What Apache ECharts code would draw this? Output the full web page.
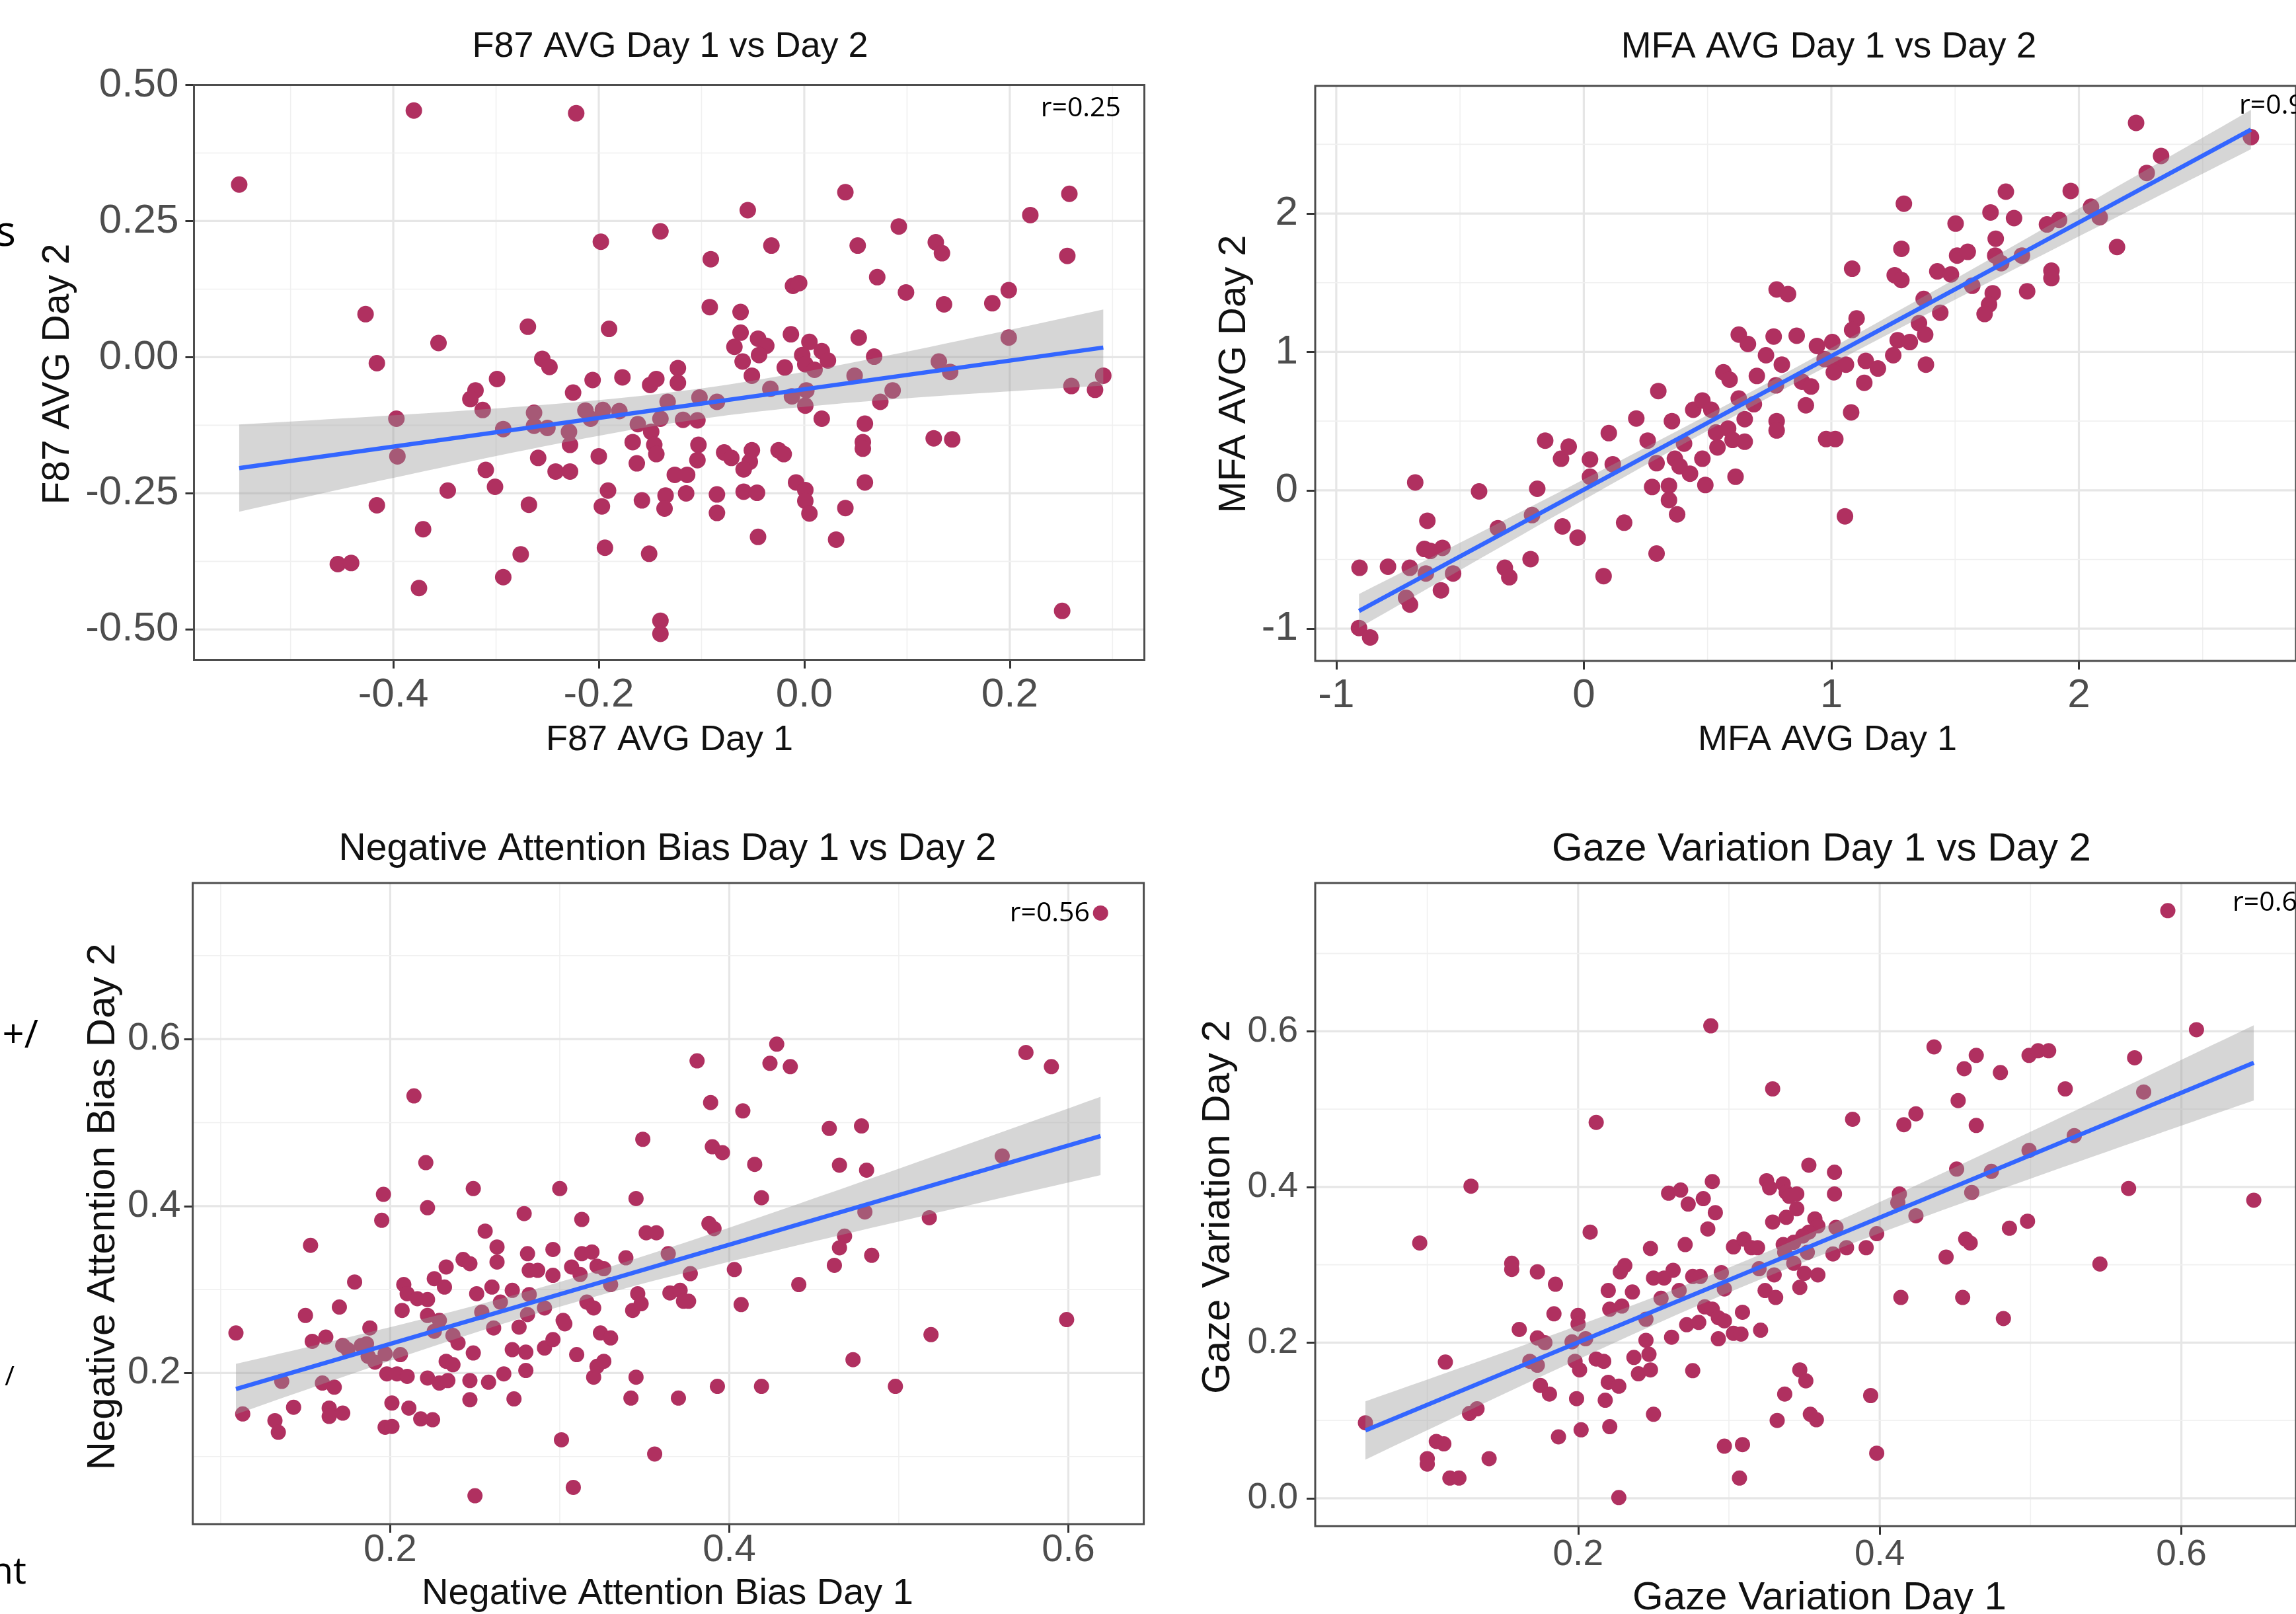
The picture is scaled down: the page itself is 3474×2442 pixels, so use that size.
<!DOCTYPE html>
<html><head><meta charset="utf-8">
<script src="https://cdn.jsdelivr.net/npm/echarts@6.0.0/dist/echarts.min.js"></script>
<style>html,body{margin:0;padding:0;background:#fff;overflow:hidden}#chart{width:3474px;height:2442px}</style>
</head><body><div id="chart"></div>
<script>
// ---------- DATA ----------
const f87Points = [[-0.550,0.317],[-0.380,0.453],[-0.222,0.448],[-0.198,0.212],[-0.140,0.231],[-0.427,0.079],[-0.416,-0.011],[-0.356,0.026],[-0.269,0.056],[-0.190,0.052],[-0.255,-0.003],[-0.248,-0.018],[-0.299,-0.040],[-0.320,-0.061],[-0.325,-0.077],[-0.313,-0.097],[-0.225,-0.065],[-0.206,-0.042],[-0.177,-0.037],[-0.150,-0.051],[-0.144,-0.040],[-0.397,-0.113],[-0.396,-0.182],[-0.293,-0.132],[-0.263,-0.102],[-0.263,-0.126],[-0.250,-0.130],[-0.229,-0.137],[-0.213,-0.098],[-0.208,-0.113],[-0.196,-0.097],[-0.180,-0.099],[-0.162,-0.123],[-0.149,-0.137],[-0.140,-0.113],[-0.228,-0.161],[-0.167,-0.156],[-0.146,-0.161],[-0.144,-0.178],[-0.259,-0.185],[-0.200,-0.182],[-0.163,-0.195],[-0.310,-0.207],[-0.301,-0.238],[-0.242,-0.210],[-0.228,-0.210],[-0.347,-0.245],[-0.416,-0.272],[-0.268,-0.271],[-0.191,-0.245],[-0.197,-0.274],[-0.158,-0.263],[-0.135,-0.254],[-0.371,-0.316],[-0.454,-0.380],[-0.441,-0.378],[-0.276,-0.362],[-0.194,-0.350],[-0.151,-0.361],[-0.375,-0.424],[-0.293,-0.404],[-0.140,-0.484],[-0.140,-0.508],
[-0.133,-0.082],[-0.123,-0.020],[-0.123,-0.047],[-0.118,-0.115],[-0.104,-0.116],[-0.103,-0.161],[-0.104,-0.189],[-0.126,-0.216],[-0.114,-0.216],[-0.136,-0.278],[-0.115,-0.250],[-0.085,-0.252],[-0.085,-0.286],[-0.091,0.180],[-0.092,0.092],[-0.055,0.270],[-0.032,0.205],[-0.062,0.083],[-0.011,0.131],[-0.005,0.136],[0.040,0.303],[0.052,0.205],[0.092,0.240],[0.071,0.147],[0.099,0.119],[0.128,0.211],[0.134,0.191],[0.136,0.097],[0.220,0.261],[0.258,0.300],[0.256,0.186],[0.183,0.099],[0.199,0.123],[0.199,0.036],[-0.062,0.045],[-0.068,0.019],[-0.060,-0.008],[-0.045,0.034],[-0.037,0.021],[-0.044,0.004],[-0.051,-0.034],[-0.013,0.042],[-0.019,-0.019],[0.005,0.028],[-0.002,0.004],[0.001,-0.013],[0.017,0.011],[0.023,-0.006],[0.010,-0.023],[0.053,0.036],[0.068,0.001],[0.049,-0.034],[-0.033,-0.058],[-0.012,-0.072],[0.002,-0.061],[0.001,-0.089],[-0.085,-0.082],[-0.102,-0.074],[0.086,-0.061],[0.074,-0.082],[0.017,-0.113],[0.131,-0.008],[0.142,-0.027],[0.059,-0.122],[0.057,-0.156],[0.057,-0.168],[0.126,-0.149],[0.144,-0.151],[0.260,-0.053],[0.283,-0.060],[0.291,-0.034],[-0.078,-0.175],[-0.071,-0.185],[-0.051,-0.171],[-0.053,-0.192],[-0.059,-0.206],[-0.025,-0.171],[-0.020,-0.178],[-0.059,-0.247],[-0.046,-0.249],[-0.008,-0.230],[0.001,-0.244],[0.001,-0.264],[0.005,-0.287],[0.040,-0.277],[0.059,-0.230],[-0.045,-0.330],[0.031,-0.335],[0.251,-0.466]];

const mfaPoints = [[-0.908,-0.995],[-0.863,-1.063],[-0.906,-0.560],[-0.791,-0.552],[-0.703,-0.560],[-0.718,-0.777],[-0.702,-0.826],[-0.681,0.057],[-0.632,-0.220],[-0.644,-0.424],[-0.620,-0.438],[-0.571,-0.416],[-0.638,-0.601],[-0.528,-0.601],[-0.577,-0.723],[-0.423,-0.008],[-0.347,-0.274],[-0.319,-0.560],[-0.301,-0.628],[-0.215,-0.497],[-0.209,-0.179],[-0.188,0.011],[-0.156,0.359],[-0.092,0.228],[-0.061,0.315],[-0.086,-0.261],[-0.025,-0.342],[0.025,0.223],[0.025,0.098],[0.080,-0.620],[0.101,0.413],[0.117,0.188],[0.163,-0.234],[0.212,0.519],[0.258,0.359],[0.301,0.717],[0.294,0.196],[0.276,0.024],[0.294,-0.457],[0.344,0.033],[0.344,-0.071],[0.377,-0.174],[0.356,0.500],[0.368,0.228],[0.387,0.174],[0.405,0.337],[0.442,0.582],[0.429,0.120],[0.491,0.038],[0.479,0.228],[0.479,0.649],[0.515,0.582],[0.534,0.418],[0.540,0.310],[0.564,0.853],[0.589,0.799],[0.583,0.446],[0.601,0.364],[0.613,0.098],[0.626,1.125],[0.663,1.057],[0.626,0.663],[0.650,0.514],[0.650,0.351],[0.687,0.622],[0.699,0.826],[0.736,0.976],[0.767,1.111],[0.779,1.451],[0.779,0.500],[0.779,0.432],[0.800,0.908],
[0.825,1.418],[0.860,1.117],[0.776,0.758],[0.881,0.785],[0.918,0.750],[0.897,0.614],[0.942,1.043],[1.004,1.071],[0.973,0.948],[1.022,0.908],[1.059,0.908],[1.010,0.853],[1.084,1.601],[1.102,1.242],[1.084,1.158],[1.080,0.563],[1.139,0.935],[1.133,0.777],[1.188,0.880],[0.979,0.370],[1.016,0.370],[1.055,-0.188],[1.293,2.071],[1.283,1.745],[1.256,1.554],[1.283,1.519],[1.373,1.383],[1.354,1.207],[1.440,1.283],[1.268,1.084],[1.250,0.976],[1.317,1.071],[1.379,1.125],[1.382,0.908],[1.428,1.582],[1.483,1.560],[1.502,1.927],[1.508,1.696],[1.551,1.723],[1.569,1.478],[1.643,2.008],[1.705,2.158],[1.738,1.967],[1.664,1.818],[1.662,1.696],[1.686,1.641],[1.770,1.696],[1.652,1.424],[1.637,1.342],[1.619,1.274],[1.791,1.438],[1.889,1.587],[1.889,1.533],[1.871,1.921],[1.920,1.954],[1.967,2.163],[2.049,2.049],[2.084,1.973],[2.154,1.758],[2.231,2.655],[2.274,2.293],[2.332,2.416],[2.695,2.552]];

const nabPoints = [[0.109,0.248],[0.113,0.151],[0.132,0.143],[0.134,0.129],[0.136,0.190],[0.143,0.159],[0.150,0.269],[0.153,0.353],[0.154,0.238],[0.162,0.243],[0.160,0.188],[0.164,0.158],[0.164,0.148],[0.167,0.183],[0.172,0.152],[0.170,0.279],[0.172,0.233],[0.175,0.228],[0.179,0.309],[0.183,0.233],[0.186,0.235],[0.188,0.254],[0.187,0.220],[0.191,0.213],[0.195,0.383],[0.196,0.414],[0.197,0.223],[0.198,0.199],[0.197,0.135],[0.201,0.136],[0.201,0.164],[0.204,0.199],[0.206,0.222],[0.207,0.275],[0.208,0.306],[0.210,0.295],[0.210,0.196],[0.211,0.158],[0.214,0.532],[0.216,0.289],[0.221,0.452],[0.222,0.398],[0.222,0.288],[0.222,0.269],[0.218,0.145],[0.225,0.144],[0.222,0.194],[0.226,0.250],[0.229,0.263],[0.226,0.313],[0.233,0.327],[0.232,0.303],[0.229,0.188],[0.234,0.191],[0.233,0.214],[0.237,0.210],[0.237,0.245],[0.240,0.236],[0.243,0.336],[0.247,0.331],[0.247,0.191],[0.247,0.168],[0.249,0.224],[0.249,0.421],[0.250,0.053],[0.251,0.295],[0.254,0.273],[0.256,0.370],[0.258,0.189],[0.260,0.303],[0.261,0.254],[0.263,0.351],[0.263,0.333],[0.265,0.285],[0.267,0.199],[0.272,0.299],[0.272,0.228],[0.273,0.169],[0.276,0.255],[0.279,0.391],[0.280,0.225],[0.280,0.203],[0.281,0.343],[0.282,0.323],[0.282,0.294],[0.281,0.270],[0.287,0.323],[0.291,0.278],[0.291,0.230],[0.296,0.348],[0.296,0.317],[0.296,0.240],[0.300,0.421],[0.301,0.120],[0.302,0.263],[0.303,0.259],[0.307,0.327],[0.308,0.063],[0.310,0.222],[0.312,0.318],[0.313,0.384],[0.313,0.343],[0.319,0.345],[0.316,0.285],[0.320,0.278],[0.320,0.195],[0.322,0.208],[0.326,0.214],[0.324,0.248],[0.330,0.242],[0.322,0.328],[0.326,0.325],[0.330,0.306],[0.339,0.338],[0.345,0.409],[0.349,0.480],[0.351,0.368],[0.357,0.368],[0.346,0.295],[0.343,0.275],[0.348,0.283],[0.345,0.195],[0.342,0.170],[0.356,0.103],
[0.364,0.343],[0.365,0.296],[0.371,0.299],[0.373,0.286],[0.376,0.286],[0.377,0.319],[0.370,0.170],[0.381,0.574],[0.389,0.524],[0.390,0.471],[0.396,0.464],[0.388,0.379],[0.391,0.373],[0.393,0.184],[0.403,0.324],[0.407,0.282],[0.408,0.514],[0.415,0.450],[0.419,0.410],[0.419,0.184],[0.424,0.571],[0.428,0.594],[0.436,0.567],[0.441,0.306],[0.459,0.493],[0.478,0.496],[0.465,0.449],[0.481,0.443],[0.480,0.393],[0.468,0.364],[0.465,0.350],[0.462,0.329],[0.484,0.341],[0.473,0.216],[0.498,0.184],[0.518,0.386],[0.519,0.246],[0.561,0.460],[0.575,0.584],[0.590,0.567],[0.599,0.264],[0.619,0.751]];

const gazePoints = [[0.059,0.097],[0.095,0.328],[0.100,0.051],[0.100,0.044],[0.106,0.073],[0.111,0.070],[0.112,0.175],[0.115,0.026],[0.121,0.026],[0.129,0.401],[0.128,0.109],[0.133,0.115],[0.141,0.051],[0.156,0.302],[0.156,0.294],[0.161,0.217],[0.173,0.291],[0.185,0.275],[0.184,0.237],[0.173,0.206],[0.178,0.200],[0.168,0.176],[0.173,0.171],[0.175,0.145],[0.181,0.134],[0.187,0.079],[0.199,0.128],[0.200,0.235],[0.200,0.224],[0.196,0.201],[0.205,0.205],[0.198,0.176],[0.201,0.165],[0.202,0.088],[0.208,0.342],[0.212,0.483],[0.212,0.179],[0.217,0.176],[0.218,0.126],[0.221,0.092],[0.220,0.267],[0.221,0.243],[0.220,0.149],[0.227,0.144],[0.227,0.001],[0.228,0.291],[0.231,0.299],[0.229,0.247],[0.236,0.265],[0.237,0.181],[0.240,0.160],[0.245,0.230],[0.245,0.203],[0.247,0.185],[0.248,0.165],[0.250,0.108],[0.248,0.321],[0.250,0.283],[0.255,0.257],[0.257,0.283],[0.263,0.293],[0.260,0.392],[0.268,0.396],[0.262,0.207],[0.267,0.267],[0.271,0.326],[0.272,0.223],[0.273,0.378],[0.276,0.164],[0.276,0.285],[0.281,0.285],[0.280,0.226],[0.283,0.385],[0.286,0.346],[0.288,0.607],[0.289,0.407],[0.291,0.367],[0.284,0.246],[0.289,0.243],[0.293,0.232],[0.293,0.205],[0.295,0.290],[0.297,0.269],[0.297,0.228],[0.297,0.067],[0.303,0.323],[0.303,0.212],[0.307,0.026],[0.309,0.069],[0.309,0.239],[0.308,0.211],[0.310,0.333],[0.315,0.322],[0.319,0.322],[0.320,0.295],[0.321,0.216],[0.324,0.267],[0.331,0.258],[0.325,0.408],[0.327,0.399],[0.329,0.526],[0.329,0.355],[0.330,0.287],[0.332,0.100],[0.337,0.134],[0.336,0.404],[0.338,0.393],[0.338,0.361],[0.336,0.326],
[0.340,0.388],[0.345,0.391],[0.345,0.372],[0.353,0.428],[0.370,0.419],[0.370,0.391],[0.357,0.359],[0.359,0.350],[0.353,0.342],[0.349,0.337],[0.343,0.329],[0.371,0.348],[0.337,0.316],[0.343,0.302],[0.352,0.316],[0.369,0.314],[0.378,0.322],[0.391,0.322],[0.398,0.340],[0.350,0.289],[0.359,0.287],[0.347,0.271],[0.382,0.487],[0.347,0.165],[0.351,0.151],[0.354,0.108],[0.358,0.101],[0.394,0.132],[0.398,0.058],[0.413,0.391],[0.412,0.380],[0.424,0.363],[0.414,0.258],[0.416,0.480],[0.424,0.494],[0.436,0.580],[0.444,0.310],[0.452,0.511],[0.456,0.552],[0.464,0.569],[0.464,0.479],[0.451,0.423],[0.461,0.393],[0.457,0.333],[0.460,0.328],[0.455,0.258],[0.474,0.420],[0.480,0.547],[0.486,0.347],[0.482,0.231],[0.498,0.356],[0.499,0.447],[0.499,0.569],[0.505,0.575],[0.512,0.575],[0.523,0.526],[0.529,0.466],[0.546,0.301],[0.565,0.398],[0.569,0.566],[0.575,0.522],[0.591,0.755],[0.610,0.602],[0.648,0.383]];

// tick values and labels
const f87XTicks = [-0.4,-0.2,0.0,0.2];      const f87XTickLabels = ['-0.4','-0.2','0.0','0.2'];
const f87YTicks = [-0.5,-0.25,0.0,0.25,0.5]; const f87YTickLabels = ['-0.50','-0.25','0.00','0.25','0.50'];
const f87XMinor = [-0.5,-0.3,-0.1,0.1,0.3];  const f87YMinor = [-0.375,-0.125,0.125,0.375];
const mfaXTicks = [-1,0,1,2]; const mfaXTickLabels = ['-1','0','1','2'];
const mfaYTicks = [-1,0,1,2]; const mfaYTickLabels = ['-1','0','1','2'];
const mfaXMinor = [-0.5,0.5,1.5,2.5]; const mfaYMinor = [-0.5,0.5,1.5,2.5];
const nabXTicks = [0.2,0.4,0.6]; const nabXTickLabels = ['0.2','0.4','0.6'];
const nabYTicks = [0.2,0.4,0.6]; const nabYTickLabels = ['0.2','0.4','0.6'];
const nabXMinor = [0.1,0.3,0.5]; const nabYMinor = [0.1,0.3,0.5,0.7];
const gazeXTicks = [0.2,0.4,0.6]; const gazeXTickLabels = ['0.2','0.4','0.6'];
const gazeYTicks = [0.0,0.2,0.4,0.6]; const gazeYTickLabels = ['0.0','0.2','0.4','0.6'];
const gazeXMinor = [0.1,0.3,0.5]; const gazeYMinor = [0.1,0.3,0.5,0.7];

// texts
const panelTitles = ['F87 AVG Day 1 vs Day 2','MFA AVG Day 1 vs Day 2','Negative Attention Bias Day 1 vs Day 2','Gaze Variation Day 1 vs Day 2'];
const xTitles = ['F87 AVG Day 1','MFA AVG Day 1','Negative Attention Bias Day 1','Gaze Variation Day 1'];
const yTitles = ['F87 AVG Day 2','MFA AVG Day 2','Negative Attention Bias Day 2','Gaze Variation Day 2'];
const rLabels = ['r=0.25','r=0.9','r=0.56','r=0.6'];
const sideFragments = ['s','+/','/','nt'];

// ---------- LAYOUT / STYLE ----------
const panels = [
  {pts:f87Points, xt:f87XTicks, xl:f87XTickLabels, yt:f87YTicks, yl:f87YTickLabels, xm:f87XMinor, ym:f87YMinor,
   xMin:-0.594, xMax:0.331, yMin:-0.556, yMax:0.5, grid:{left:293.5,top:128.5,width:1438,height:870},
   tick:62, xMargin:22, yMargin:23, sym:25,
   title:{x:1014,y:71,fs:54}, xTitle:{x:1013,y:1120,fs:54}, yTitle:{x:88,y:566,fs:57},
   r:{x:1696,y:164,align:'right'}},
  {pts:mfaPoints, xt:mfaXTicks, xl:mfaXTickLabels, yt:mfaYTicks, yl:mfaYTickLabels, xm:mfaXMinor, ym:mfaYMinor,
   xMin:-1.085, xMax:2.877, yMin:-1.233, yMax:2.922, grid:{left:1990,top:130,width:1552,height:870},
   tick:62, xMargin:22, yMargin:26, sym:25,
   title:{x:2767,y:72,fs:55}, xTitle:{x:2765,y:1120,fs:54}, yTitle:{x:1868,y:566,fs:58},
   r:{x:3388,y:160,align:'left'}},
  {pts:nabPoints, xt:nabXTicks, xl:nabXTickLabels, yt:nabYTicks, yl:nabYTickLabels, xm:nabXMinor, ym:nabYMinor,
   xMin:0.0835, xMax:0.6445, yMin:0.019, yMax:0.787, grid:{left:291.6,top:1336,width:1439,height:970},
   tick:58, xMargin:11, yMargin:18, sym:23,
   title:{x:1010,y:1285,fs:57}, xTitle:{x:1010,y:2412,fs:56}, yTitle:{x:156,y:1826,fs:60},
   r:{x:1649,y:1382,align:'right'}},
  {pts:gazePoints, xt:gazeXTicks, xl:gazeXTickLabels, yt:gazeYTicks, yl:gazeYTickLabels, xm:gazeXMinor, ym:gazeYMinor,
   xMin:0.0257, xMax:0.676, yMin:-0.0357, yMax:0.7905, grid:{left:1990,top:1336,width:1530,height:973},
   tick:55, xMargin:16, yMargin:26, sym:23,
   title:{x:2756,y:1285,fs:60}, xTitle:{x:2753,y:2418,fs:60}, yTitle:{x:1843,y:1826,fs:60},
   r:{x:3378,y:1366,align:'left'}}
];
const fragPos = [{x:24,y:354,fs:64},{x:58,y:1568,fs:58},{x:22,y:2085,fs:40},{x:40,y:2380,fs:56}];

const POINT = '#B03060', LINE = '#3366FF', BAND = 'rgba(153,153,153,0.4)';
const FONT = '"Liberation Sans", Arial, sans-serif';
const TFONT = '"Open Sans", sans-serif';

// linear model (like geom_smooth(method = "lm"))
function fitLm(pts){
  const n = pts.length; let mx=0,my=0;
  pts.forEach(p=>{mx+=p[0];my+=p[1];}); mx/=n; my/=n;
  let sxx=0,sxy=0; pts.forEach(p=>{sxx+=(p[0]-mx)**2; sxy+=(p[0]-mx)*(p[1]-my);});
  const b=sxy/sxx, a=my-b*mx;
  let sse=0; pts.forEach(p=>{sse+=(p[1]-a-b*p[0])**2;});
  const s=Math.sqrt(sse/(n-2));
  const xs=pts.map(p=>p[0]);
  return {a,b,s,n,mx,sxx,xmin:Math.min(...xs),xmax:Math.max(...xs)};
}
const T975 = 1.975;

function labelFmt(ticks, labels){
  return v => { const i = ticks.findIndex(t=>Math.abs(t-v)<1e-9); return i>=0 ? labels[i] : ''; };
}

const grids=[], xAxes=[], yAxes=[], series=[], graphics=[];
panels.forEach((p,i)=>{
  grids.push(Object.assign({show:true, backgroundColor:'transparent', borderColor:'#4d4d4d', borderWidth:3, z:10, containLabel:false}, p.grid));
  const tickStyle = {color:'#333333', width:3};
  xAxes.push({gridIndex:i, type:'value', min:p.xMin, max:p.xMax,
    axisLine:{show:false,onZero:false},
    axisTick:{show:true, customValues:p.xt, length:13, lineStyle:tickStyle},
    axisLabel:{show:true, customValues:p.xt, formatter:labelFmt(p.xt,p.xl), fontSize:p.tick, fontFamily:FONT, color:'#4d4d4d', margin:p.xMargin},
    splitLine:{show:false}});
  yAxes.push({gridIndex:i, type:'value', min:p.yMin, max:p.yMax,
    axisLine:{show:false,onZero:false},
    axisTick:{show:true, customValues:p.yt, length:13, lineStyle:tickStyle},
    axisLabel:{show:true, customValues:p.yt, formatter:labelFmt(p.yt,p.yl), fontSize:p.tick, fontFamily:FONT, color:'#4d4d4d', margin:p.yMargin},
    splitLine:{show:false}});
  // grid lines (major + minor) as a custom series on this panel's scales
  const gl = [].concat(p.xt.map(v=>[v,0,1]), p.xm.map(v=>[v,0,0]), p.yt.map(v=>[v,1,1]), p.ym.map(v=>[v,1,0]));
  series.push({type:'custom', xAxisIndex:i, yAxisIndex:i, silent:true, z:1, data:gl,
    renderItem:(params, api)=>{
      const v=api.value(0), o=api.value(1), m=api.value(2), cs=params.coordSys;
      let shape;
      if(o===0){ const x=api.coord([v,p.yMin])[0]; shape={x1:x,y1:cs.y,x2:x,y2:cs.y+cs.height}; }
      else { const y=api.coord([p.xMin,v])[1]; shape={x1:cs.x,y1:y,x2:cs.x+cs.width,y2:y}; }
      return {type:'line', shape, style:{stroke: m?'#e6e6e6':'#f0f0f0', lineWidth: m?3.2:1.6}};
    }});
  series.push({type:'scatter', xAxisIndex:i, yAxisIndex:i, z:2, data:p.pts, symbolSize:p.sym,
    itemStyle:{color:POINT, opacity:1}, silent:true});
  const f = fitLm(p.pts);
  const K = 60, up=[], lo=[];
  for(let k=0;k<=K;k++){
    const x = f.xmin + (f.xmax-f.xmin)*k/K;
    const se = f.s*Math.sqrt(1/f.n + (x-f.mx)**2/f.sxx);
    const yh = f.a + f.b*x;
    up.push([x, yh + T975*se]); lo.push([x, yh - T975*se]);
  }
  series.push({type:'custom', xAxisIndex:i, yAxisIndex:i, silent:true, z:3, data:[[f.xmin, f.a+f.b*f.xmin]],
    renderItem:(params, api)=>{
      const poly = up.map(q=>api.coord(q)).concat(lo.slice().reverse().map(q=>api.coord(q)));
      return {type:'polygon', shape:{points:poly}, style:{fill:BAND}};
    }});
  series.push({type:'line', xAxisIndex:i, yAxisIndex:i, z:4, silent:true, symbol:'none',
    data:[[f.xmin, f.a+f.b*f.xmin],[f.xmax, f.a+f.b*f.xmax]],
    lineStyle:{color:LINE, width:6.5}});

  graphics.push({type:'text', x:p.title.x, y:p.title.y, style:{text:panelTitles[i], font:`${p.title.fs}px ${FONT}`, fill:'#111', textAlign:'center', textVerticalAlign:'middle', align:'center', verticalAlign:'middle'}});
  graphics.push({type:'text', x:p.xTitle.x, y:p.xTitle.y, style:{text:xTitles[i], font:`${p.xTitle.fs}px ${FONT}`, fill:'#111', textAlign:'center', textVerticalAlign:'middle', align:'center', verticalAlign:'middle'}});
  graphics.push({type:'text', x:p.yTitle.x, y:p.yTitle.y, rotation:Math.PI/2, style:{text:yTitles[i], font:`${p.yTitle.fs}px ${FONT}`, fill:'#111', textAlign:'center', textVerticalAlign:'middle', align:'center', verticalAlign:'middle'}});
  graphics.push({type:'text', x:p.r.x, y:p.r.y, z:20, style:{text:rLabels[i], font:`41px ${TFONT}`, fill:'#000', textAlign:p.r.align, textVerticalAlign:'middle', align:p.r.align, verticalAlign:'middle'}});
});
sideFragments.forEach((t,i)=>{
  const q = fragPos[i];
  graphics.push({type:'text', x:q.x, y:q.y, style:{text:t, font:`${q.fs}px ${TFONT}`, fill:'#000', textAlign:'right', textVerticalAlign:'middle', align:'right', verticalAlign:'middle'}});
});

const chart = echarts.init(document.getElementById('chart'), null, {renderer:'canvas', width:3474, height:2442});
chart.setOption({animation:false, backgroundColor:'#ffffff', grid:grids, xAxis:xAxes, yAxis:yAxes, series, graphic:{elements:graphics}});
</script>
</body></html>
